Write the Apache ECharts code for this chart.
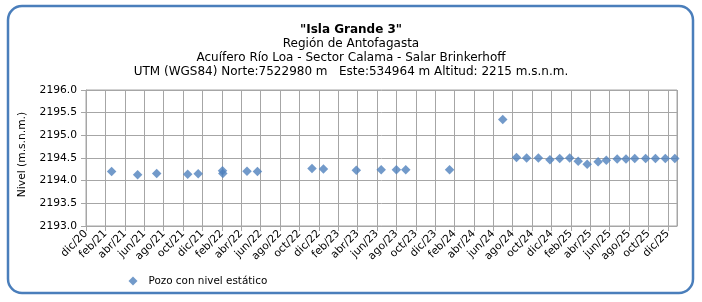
<!DOCTYPE html>
<html>
<head>
<meta charset="utf-8">
<script src="https://cdn.jsdelivr.net/npm/echarts@6/dist/echarts.min.js"></script>
<style>
html,body{margin:0;padding:0;background:#fff;}
#chart{width:702px;height:302px;}
</style>
</head>
<body>
<div id="chart"></div>
<script>
// ---- data ----
const titleLines = [
  '"Isla Grande 3"',
  'Región de Antofagasta',
  'Acuífero Río Loa - Sector Calama - Salar Brinkerhoff',
  'UTM (WGS84) Norte:7522980 m   Este:534964 m Altitud: 2215 m.s.n.m.'
];
const seriesName = 'Pozo con nivel estático';
const yAxisName = 'Nivel (m.s.n.m.)';
const monthNames = ['ene','feb','mar','abr','may','jun','jul','ago','sep','oct','nov','dic'];
const axisStart = '2020-12-01';
const axisEnd = '2025-12-30';
const yMin = 2193.0, yMax = 2196.0, yStep = 0.5;

const dates = [
  '2021-02-19','2021-05-11','2021-07-10','2021-10-16','2021-11-18',
  '2022-02-03','2022-02-04','2022-04-19','2022-05-22','2022-11-10',
  '2022-12-16','2023-03-28','2023-06-14','2023-08-01','2023-08-31',
  '2024-01-16','2024-06-30','2024-08-13','2024-09-14','2024-10-21',
  '2024-11-26','2024-12-27','2025-01-28','2025-02-22','2025-03-22',
  '2025-04-25','2025-05-21','2025-06-24','2025-07-22','2025-08-19',
  '2025-09-22','2025-10-23','2025-11-23','2025-12-23'
];
const levels = [
  2194.20, 2194.13, 2194.16, 2194.14, 2194.15,
  2194.22, 2194.16, 2194.21, 2194.20, 2194.27,
  2194.26, 2194.23, 2194.24, 2194.24, 2194.24,
  2194.24, 2195.35, 2194.51, 2194.50, 2194.50,
  2194.46, 2194.49, 2194.50, 2194.43, 2194.36,
  2194.42, 2194.45, 2194.48, 2194.48, 2194.49,
  2194.49, 2194.49, 2194.49, 2194.49
];

// ---- helpers: date -> fractional months since axisStart ----
function toMonths(s){
  const [y,m,d] = s.split('-').map(Number);
  const [y0,m0] = axisStart.split('-').map(Number);
  const dim = new Date(y, m, 0).getDate();
  return (y - y0) * 12 + (m - m0) + (d - 1) / dim;
}
function monthLabel(v){
  if (Math.abs(v - Math.round(v)) > 1e-6) return '';
  const [y0,m0] = axisStart.split('-').map(Number);
  const total = (m0 - 1) + Math.round(v);
  const y = y0 + Math.floor(total / 12);
  const m = total % 12;
  return monthNames[m] + '/' + String(y % 100).padStart(2,'0');
}

const points = dates.map((d,i) => [toMonths(d), levels[i]]);

const FONT = '"DejaVu Sans", Verdana, sans-serif';
const gridCol = '#a6a6a6';
const AX = 10.7;

const chart = echarts.init(document.getElementById('chart'), null, {renderer:'canvas'});
chart.setOption({
  animation: false,
  backgroundColor: '#ffffff',
  graphic: [
    {type:'rect', shape:{x:8, y:6, width:685, height:287, r:14},
     style:{fill:'#ffffff', stroke:'#4a7ebb', lineWidth:2.5}, z:-10},
    {type:'text', x:351, y:30, style:{text:titleLines[0], font:'bold 12px '+FONT, fill:'#000', align:'center', verticalAlign:'middle'}},
    {type:'text', x:351, y:43.5, style:{text:titleLines[1], font:'12px '+FONT, fill:'#000', align:'center', verticalAlign:'middle'}},
    {type:'text', x:351, y:57.5, style:{text:titleLines[2], font:'12px '+FONT, fill:'#000', align:'center', verticalAlign:'middle'}},
    {type:'text', x:351, y:71.5, style:{text:titleLines[3], font:'12px '+FONT, fill:'#000', align:'center', verticalAlign:'middle'}}
  ],
  grid: {left:86, top:90, right:25, bottom:76, show:true, borderColor:gridCol, borderWidth:1, backgroundColor:'transparent'},
  legend: {
    data:[{name:seriesName, icon:'diamond'}], left:128.5, top:276, itemWidth:9, itemHeight:9,
    padding:0, symbolKeepAspect:true,
    textStyle:{fontFamily:FONT, fontSize:10.4, color:'#000', padding:[0,0,0,6]}
  },
  xAxis: {
    type:'value', min:0, max:toMonths(axisEnd), interval:2,
    axisLine:{show:true, lineStyle:{color:gridCol}},
    axisTick:{show:true, length:5, lineStyle:{color:gridCol}},
    splitLine:{show:true, lineStyle:{color:gridCol, width:1}},
    axisLabel:{rotate:45, margin:6, fontFamily:FONT, fontSize:AX, color:'#000',
      showMaxLabel:false, formatter: monthLabel}
  },
  yAxis: {
    type:'value', min:yMin, max:yMax, interval:yStep,
    name:yAxisName, nameLocation:'middle', nameGap:58,
    nameTextStyle:{fontFamily:FONT, fontSize:AX, color:'#000', padding:[0,0,0,7]},
    axisLine:{show:true, lineStyle:{color:gridCol}},
    axisTick:{show:true, length:5, lineStyle:{color:gridCol}},
    splitLine:{show:true, lineStyle:{color:gridCol, width:1}},
    axisLabel:{fontFamily:FONT, fontSize:AX, color:'#000', margin:9,
      formatter: v => v.toFixed(1)}
  },
  series: [{
    name:seriesName, type:'scatter', symbol:'diamond', symbolSize:9.5,
    itemStyle:{color:'#4f81bd'}, data: points
  }]
});
</script>
</body>
</html>
